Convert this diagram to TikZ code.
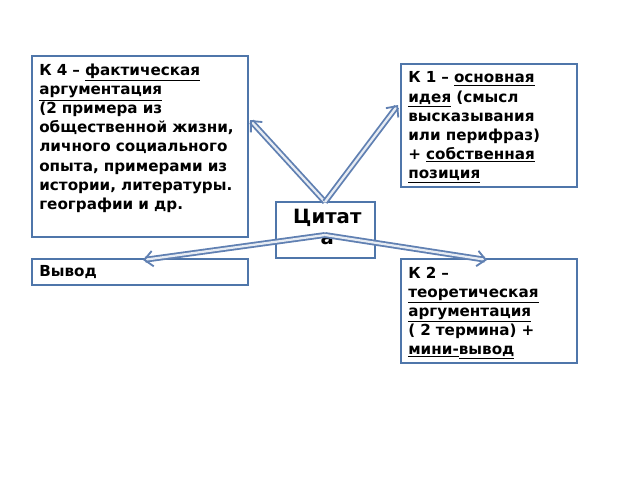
\documentclass[tikz,border=0pt]{standalone}
\usepackage{fontspec}
\setmainfont{DejaVu Sans}
\usetikzlibrary{arrows.meta}
\definecolor{boxblue}{RGB}{79,118,170}
\definecolor{arrowblue}{RGB}{96,128,178}
\newcommand{\ul}[1]{\underline{#1}}
\tikzset{
  frame/.style={draw=boxblue, line width=1pt},
  card/.style={anchor=north west, align=left, inner xsep=5pt, inner ysep=4pt,
    font=\bfseries\fontsize{10.8}{13.6}\selectfont},
  link/.style={draw=arrowblue, double=white!85!arrowblue, double distance=1.6pt,
    line width=1.3pt, -{Straight Barb[length=6pt,width=11pt]}}
}
\begin{document}
\begin{tikzpicture}[x=0.025cm,y=-0.025cm]
  \useasboundingbox (0,0) rectangle (640,480);

  % boxes
  \draw[frame] (32,56) rectangle (248,237);
  \draw[frame] (401,64) rectangle (577,187);
  \draw[frame] (276,202) rectangle (375,258);
  \draw[frame] (32,259) rectangle (248,285);
  \draw[frame] (401,259) rectangle (577,363);

  % texts
  \node[card, text width=5.2cm] (k4) at (32,58)
    {К 4 -- \ul{фактическая} \ul{аргументация} (2 примера из общественной жизни, личного социального опыта, примерами из истории, литературы. географии и др.};
  \node[card, text width=4.15cm] (k1) at (401,66)
    {К 1 -- \ul{основная} \ul{идея} (смысл высказывания или перифраз) + \ul{собственная} \ul{позиция}};
  \node[card, text width=2.2cm, align=center,
    font=\bfseries\fontsize{14}{15}\selectfont] (quote) at (276,203) {Цитат\\а};
  \node[card] (summary) at (32,260) {Вывод};
  \node[card, text width=4.15cm] (k2) at (401,261)
    {К 2 -- \ul{теоретическая} \ul{аргументация} ( 2 термина) + \ul{мини-}\ul{вывод}};

  % connectors
  \coordinate (top) at (325,202);
  \coordinate (mid) at (325,235);
  \draw[link] (top) -- (250,120);
  \draw[link] (top) -- (398,105);
  \draw[link] (mid) -- (143,260);
  \draw[link] (mid) -- (487,260);
\end{tikzpicture}
\end{document}
